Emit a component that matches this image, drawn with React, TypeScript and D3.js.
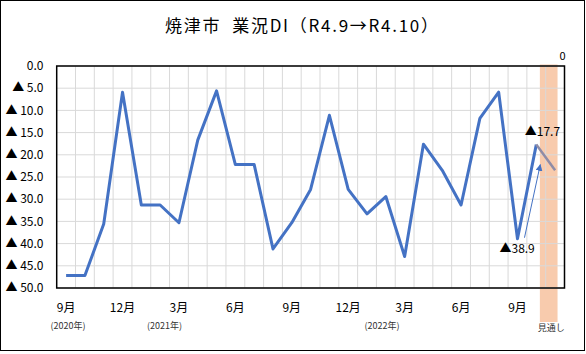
import React from "react";
import * as d3 from "d3";

const categories = [
  "2020-09","2020-10","2020-11","2020-12","2021-01","2021-02","2021-03","2021-04","2021-05",
  "2021-06","2021-07","2021-08","2021-09","2021-10","2021-11","2021-12","2022-01","2022-02",
  "2022-03","2022-04","2022-05","2022-06","2022-07","2022-08","2022-09","2022-10","見通し",
];
const actual = [
  47.2, 47.2, 35.6, 5.9, 31.3, 31.3, 35.3, 16.7, 5.6, 22.2, 22.2, 41.2, 35.3,
  27.8, 11.1, 27.8, 33.3, 29.4, 42.9, 17.6, 23.5, 31.3, 11.8, 5.9, 38.9, 17.7,
];
const forecast = 23.5;
const yTicks = [0, 5, 10, 15, 20, 25, 30, 35, 40, 45, 50];
const xTickIdx = [0, 3, 6, 9, 12, 15, 18, 21, 24];
const xTickLabels = ["9月", "12月", "3月", "6月", "9月", "12月", "3月", "6月", "9月"];
const yearLabels = [
  { text: "(2020年)", pos: 0.6 },
  { text: "(2021年)", pos: 5.73 },
  { text: "(2022年)", pos: 17.3 },
];
const bandRange = [25.69, 26.63];
const titleText = "焼津市  業況DI（R4.9→R4.10）";

const FONT = "'Noto Sans CJK JP', 'Noto Sans', sans-serif";

export default function App() {
  const W = 586, H = 354;
  const left = 56.7, right = 564.5, top = 66, bottom = 288;
  const n = categories.length;
  const xb = d3.scaleBand<number>().domain(d3.range(n)).range([left, right]).padding(0);
  const xc = d3.scaleLinear().domain([0, n]).range([left, right]);
  const cx = (i: number) => (xb(i) as number) + xb.bandwidth() / 2;
  const y = d3.scaleLinear().domain([0, 50]).range([top, bottom]);

  const line = d3.line<number>().x((_, i) => cx(i)).y((d) => y(d));
  const lastI = actual.length - 1;
  const fLine = d3.line<[number, number]>().x((d) => cx(d[0])).y((d) => y(d[1]));

  const fmt = (v: number) => (v === 0 ? "0.0" : "▲ " + v.toFixed(1));

  const ax1 = cx(24) + 7, ay1 = y(38.9) - 1;
  const ax2 = cx(25) + 4, ay2 = y(17.7) + 4.5 * 4.44;

  return (
    <svg width={W} height={H} style={{ position: "absolute", left: 0, top: 0, background: "#fff" }}>
      <defs>
        <marker id="ah" viewBox="0 0 10 10" refX="9" refY="5" markerWidth="7" markerHeight="7" orient="auto">
          <path d="M0,0 L10,5 L0,10 z" fill="#4472C4" />
        </marker>
      </defs>
      <rect x={0.5} y={0.5} width={584} height={350} fill="#fff" stroke="#000" strokeWidth={1} />
      <text x={165} y={32} textLength={273} lengthAdjust="spacing" style={{ whiteSpace: "pre" }}
        fontFamily={FONT} fontSize={17} fill="#000">
        {titleText}
      </text>
      <rect x={xc(bandRange[0])} y={top - 1.5} width={xc(bandRange[1]) - xc(bandRange[0])} height={322 - top + 1.5} fill="#F8CBAD" />
      {yTicks.map((t) => (
        <line key={"gy" + t} x1={left} x2={right} y1={y(t)} y2={y(t)} stroke="#d9d9d9" strokeWidth={1} />
      ))}
      {d3.range(1, n).map((i) => (
        <line key={"gx" + i} x1={xc(i)} x2={xc(i)} y1={top} y2={bottom} stroke="#d9d9d9" strokeWidth={1} />
      ))}
      <rect x={left} y={top} width={right - left} height={bottom - top} fill="none" stroke="#000" strokeWidth={1.5} />
      {yTicks.map((t) => (
        <text key={"yl" + t} x={43.5} y={y(t)} dy="0.35em" textAnchor="end" fontFamily={FONT} fontSize={12} fill="#000">
          {fmt(t)}
        </text>
      ))}
      {xTickIdx.map((i, k) => (
        <text key={"xl" + i} x={cx(i)} y={308} dy="0.35em" textAnchor="middle" fontFamily={FONT} fontSize={12} fill="#000">
          {xTickLabels[k]}
        </text>
      ))}
      {yearLabels.map((yl) => (
        <text key={yl.text} x={xc(yl.pos)} y={326} dy="0.35em" textAnchor="middle" fontFamily={FONT} fontSize={9} fill="#333">
          {yl.text}
        </text>
      ))}
      <text x={xc(26.3)} y={328} dy="0.35em" textAnchor="middle" fontFamily={FONT} fontSize={9} fill="#333">
        {categories[n - 1]}
      </text>
      <text x={562.5} y={56} dy="0.35em" textAnchor="middle" fontFamily={FONT} fontSize={11} fill="#000">0</text>
      <path d={line(actual) || ""} fill="none" stroke="#4472C4" strokeWidth={3} strokeLinejoin="round" />
      <path d={fLine([[lastI, actual[lastI]], [lastI + 1, forecast]]) || ""} fill="none" stroke="#8f8ca6" strokeWidth={2.5} />
      <line x1={ax1} y1={ay1} x2={ax2} y2={ay2} stroke="#4472C4" strokeWidth={1} markerEnd="url(#ah)" />
      <text x={cx(25) - 11.5} y={y(17.7) - 12.5} dy="0.35em" fontFamily={FONT} fontSize={12} fill="#000">
        {"▲" + actual[lastI].toFixed(1)}
      </text>
      <text x={cx(24) - 18} y={y(38.9) + 10} dy="0.35em" fontFamily={FONT} fontSize={12} fill="#000">
        {"▲" + actual[24].toFixed(1)}
      </text>
    </svg>
  );
}
